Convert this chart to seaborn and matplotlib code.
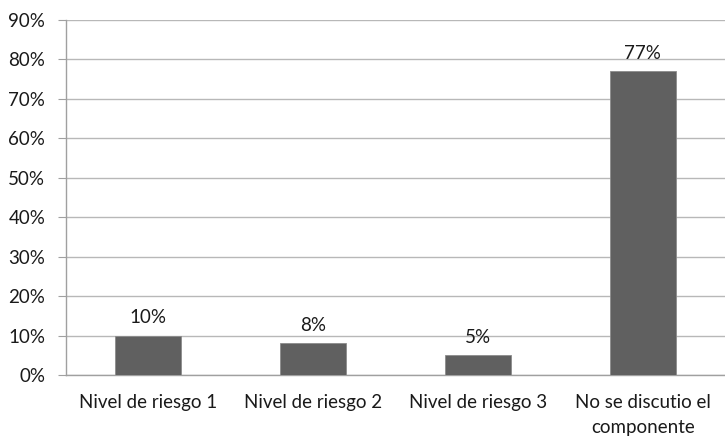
import matplotlib
matplotlib.use("Agg")
import matplotlib.pyplot as plt
import seaborn as sns
import pandas as pd

categorias = ["Nivel de riesgo 1", "Nivel de riesgo 2", "Nivel de riesgo 3",
              "No se discutio el\ncomponente"]
porcentajes = [10, 8, 5, 77]
etiquetas = ["10%", "8%", "5%", "77%"]
yticks = [0, 10, 20, 30, 40, 50, 60, 70, 80, 90]

sns.set_style("white")
plt.rcParams['font.family'] = ['Lato', 'DejaVu Sans']

df = pd.DataFrame({'cat': categorias, 'val': porcentajes})

fig = plt.figure(figsize=(7.25, 4.37), dpi=100)
ax = fig.add_axes([66/725, 1 - 375/437, 1 - 66/725, (375 - 20)/437])

sns.barplot(data=df, x='cat', y='val', color='#606060', saturation=1,
            width=0.4, edgecolor='#8c8c8c', linewidth=0.6, ax=ax, zorder=3)

fs = 13.5
for i, (v, t) in enumerate(zip(porcentajes, etiquetas)):
    ax.text(i, v + 2.3, t, ha='center', va='bottom', fontsize=fs, color='#1a1a1a')

ax.set_ylim(0, 90)
ax.set_xlim(-0.5, 3.5)
ax.set_yticks(yticks)
ax.set_yticklabels([f"{y}%" for y in yticks], fontsize=fs, color='#1a1a1a')
ax.yaxis.grid(True, color='#b8b8b8', linewidth=1, zorder=0)
ax.set_axisbelow(True)

ax.set_xticks(range(len(categorias)))
ax.set_xticklabels(categorias, fontsize=fs, color='#1a1a1a', linespacing=1.55)
ax.tick_params(axis='x', which='major', length=0, pad=14)
ax.set_xticks([-0.5, 0.5, 1.5, 2.5, 3.5], minor=True)
ax.tick_params(axis='x', which='minor', length=5, color='#a0a0a0', direction='out')
ax.tick_params(axis='y', length=6, color='#a0a0a0', direction='out', left=True, pad=9)

ax.set_xlabel('')
ax.set_ylabel('')
for s in ['top', 'right']:
    ax.spines[s].set_visible(False)
for s in ['left', 'bottom']:
    ax.spines[s].set_color('#a0a0a0')
    ax.spines[s].set_linewidth(1)

fig.savefig('out.png', dpi=100)
